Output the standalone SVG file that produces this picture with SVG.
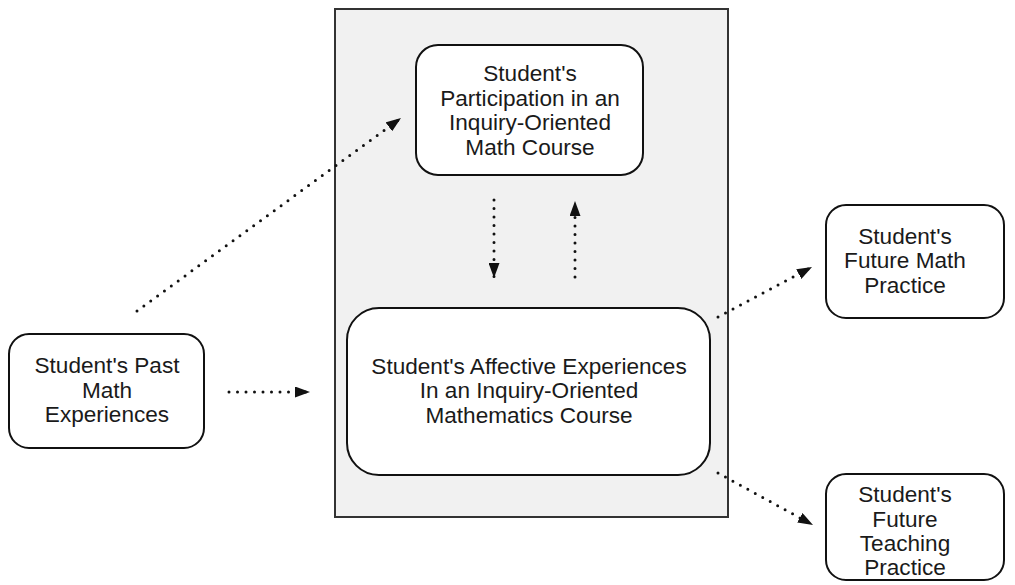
<svg xmlns="http://www.w3.org/2000/svg" width="1015" height="585" viewBox="0 0 1015 585">
  <style>
    .node { fill: #ffffff; stroke: #111111; stroke-width: 2; }
    .frame { fill: #f1f1f1; stroke: #333333; stroke-width: 2; }
    .label { font-family: "Liberation Sans", Arial, sans-serif; font-size: 22.6px; fill: #1a1a1a; text-anchor: middle; }
    .link { fill: none; stroke: #111111; stroke-width: 3; stroke-linecap: round; stroke-dasharray: 0 8.5; }
  </style>
  <defs>
    <marker id="head" viewBox="0 0 15 11" refX="15" refY="5.5" markerWidth="15" markerHeight="11" markerUnits="userSpaceOnUse" orient="auto">
      <path d="M0,0 L15,5.5 L0,11 Z" fill="#111111"/>
    </marker>
  </defs>

  <rect width="1015" height="585" fill="#ffffff"/>

  <!-- course context frame -->
  <g id="course-frame">
    <rect class="frame" x="335" y="9" width="393" height="508"/>
  </g>

  <g id="participation">
    <rect class="node" x="416" y="45" width="227" height="130" rx="22"/>
    <text class="label" x="530" y="81">Student's</text>
    <text class="label" x="530" y="106">Participation in an</text>
    <text class="label" x="530" y="130">Inquiry-Oriented</text>
    <text class="label" x="530" y="155">Math Course</text>
  </g>

  <g id="affective">
    <rect class="node" x="347" y="308" width="363" height="167" rx="32"/>
    <text class="label" x="529" y="374">Student's Affective Experiences</text>
    <text class="label" x="529" y="398">In an Inquiry-Oriented</text>
    <text class="label" x="529" y="423">Mathematics Course</text>
  </g>

  <g id="past">
    <rect class="node" x="9" y="334" width="195" height="114" rx="20"/>
    <text class="label" x="107" y="373">Student's Past</text>
    <text class="label" x="107" y="398">Math</text>
    <text class="label" x="107" y="422">Experiences</text>
  </g>

  <g id="future-math">
    <rect class="node" x="826" y="205" width="178" height="113" rx="20"/>
    <text class="label" x="905" y="244">Student's</text>
    <text class="label" x="905" y="268">Future Math</text>
    <text class="label" x="905" y="293">Practice</text>
  </g>

  <g id="future-teaching">
    <rect class="node" x="826" y="474" width="178" height="106" rx="20"/>
    <text class="label" x="905" y="502">Student's</text>
    <text class="label" x="905" y="527">Future</text>
    <text class="label" x="905" y="551">Teaching</text>
    <text class="label" x="905" y="575">Practice</text>
  </g>

  <g id="connectors">
    <path class="link" d="M137,311 L401,118" marker-end="url(#head)"/>
    <path class="link" d="M229,392 L310,392" marker-end="url(#head)"/>
    <path class="link" d="M494,200 L494,278" marker-end="url(#head)"/>
    <path class="link" d="M575,277 L575,201" marker-end="url(#head)"/>
    <path class="link" d="M718,317 L812,267" marker-end="url(#head)"/>
    <path class="link" d="M718,473 L813,525" marker-end="url(#head)"/>
  </g>
</svg>
